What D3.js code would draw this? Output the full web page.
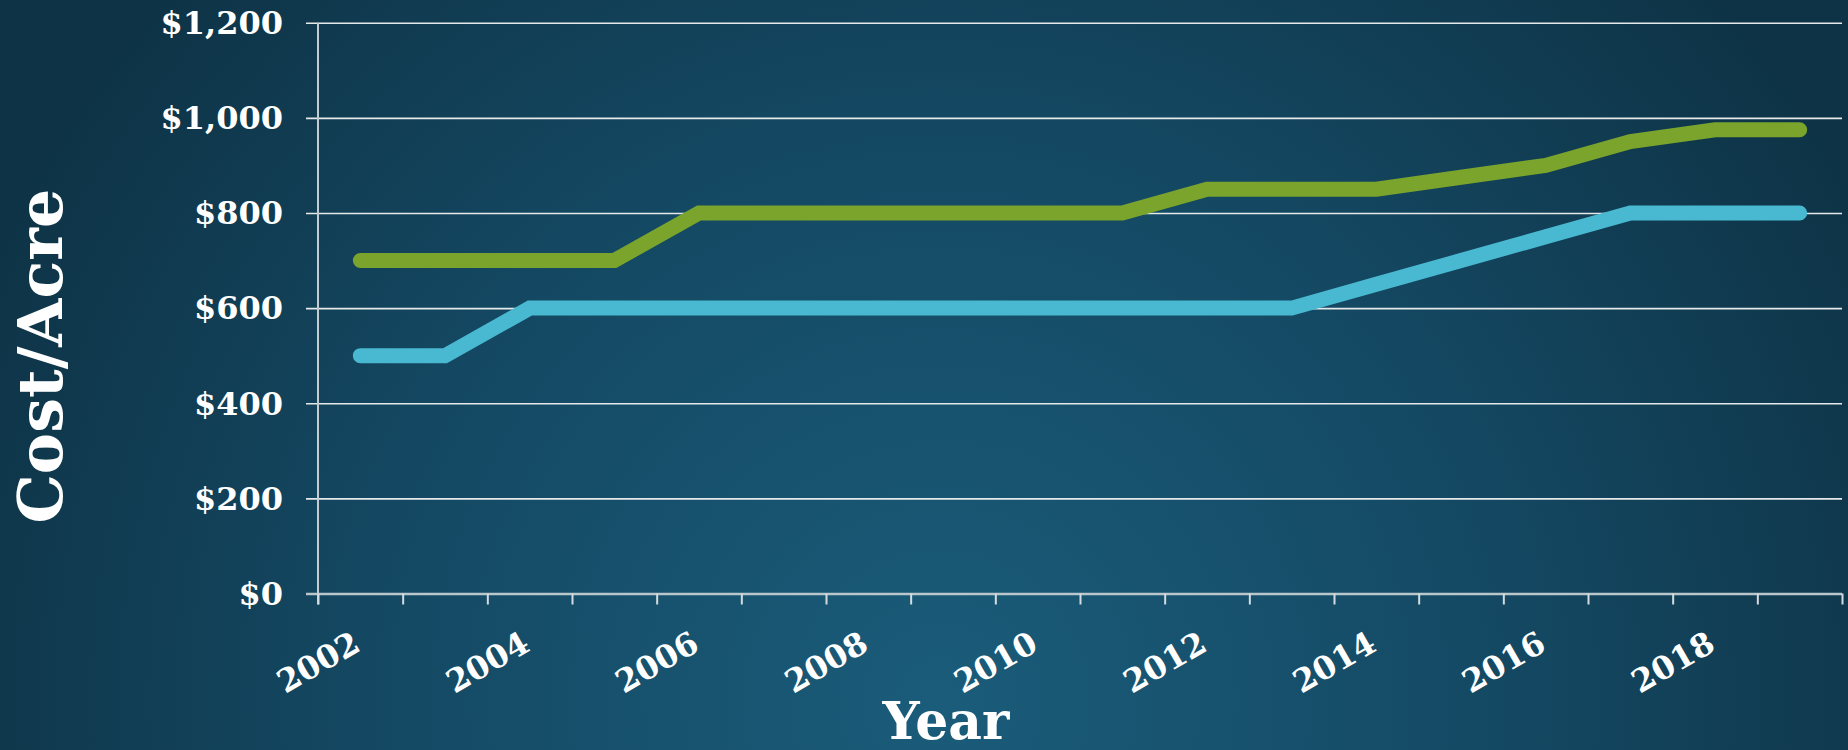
<!DOCTYPE html>
<html>
<head>
<meta charset="utf-8">
<script src="https://cdn.jsdelivr.net/npm/d3@7"></script>
<style>
  html, body { margin: 0; padding: 0; background: #11394e; }
  svg { display: block; }
</style>
</head>
<body>
<div id="chart"></div>
<script>
// Data
const years = d3.range(2002, 2020)
const greenCost = [700, 700, 700, 700, 800, 800, 800, 800, 800, 800, 850, 850, 850, 875, 900, 950, 975, 975]
const blueCost  = [500, 500, 600, 600, 600, 600, 600, 600, 600, 600, 600, 600, 650, 700, 750, 800, 800, 800]
const yTicks = [0, 200, 400, 600, 800, 1000, 1200]
const xLabelYears = [2002, 2004, 2006, 2008, 2010, 2012, 2014, 2016, 2018]

const width = 1848
const height = 750
const margin = { top: 22.7, right: 6, bottom: 156.5, left: 318 }
const fontFamily = "Georgia, 'DejaVu Serif', serif"

const svg = d3.select("#chart")
  .append("svg")
  .attr("width", width)
  .attr("height", height)

// Background gradient
const defs = svg.append("defs")
const grad = defs.append("radialGradient")
  .attr("id", "bg")
  .attr("gradientUnits", "userSpaceOnUse")
  .attr("cx", 940).attr("cy", 700)
  .attr("r", 1050)
grad.append("stop").attr("offset", "0%").attr("stop-color", "#1a5c7a")
grad.append("stop").attr("offset", "55%").attr("stop-color", "#144862")
grad.append("stop").attr("offset", "100%").attr("stop-color", "#0e3346")

svg.append("rect")
  .attr("width", width)
  .attr("height", height)
  .attr("fill", "url(#bg)")

const x0 = margin.left
const x1 = width - margin.right
const yTop = margin.top
const yBottom = height - margin.bottom

// Scales
const x = d3.scaleBand()
  .domain(years)
  .range([x0, x1])
  .padding(0)

const y = d3.scaleLinear()
  .domain([0, 1200])
  .range([yBottom, yTop])

const xCenter = d => x(d) + x.bandwidth() / 2

// Gridlines (y axis)
const yAxis = svg.append("g")
  .attr("transform", `translate(${x0},0)`)
  .call(d3.axisLeft(y)
    .tickValues(yTicks)
    .tickSize(12)
    .tickFormat(d => "$" + d3.format(",")(d)))

yAxis.select(".domain").remove()
yAxis.selectAll(".tick line")
  .attr("x1", -12)
  .attr("x2", x1 - x0)
  .attr("stroke", d => d === 0 ? "#b9c6cc" : "#e6e9ea")
  .attr("stroke-width", d => d === 0 ? 2.5 : 1.6)
yAxis.selectAll(".tick text")
  .attr("x", -35)
  .attr("dy", "0.34em")
  .attr("fill", "#fff")
  .attr("font-family", fontFamily)
  .attr("font-weight", "bold")
  .attr("font-size", "32px")

// Vertical axis line
svg.append("line")
  .attr("x1", x0).attr("x2", x0)
  .attr("y1", yTop).attr("y2", yBottom + 11)
  .attr("stroke", "#c3ccd0")
  .attr("stroke-width", 2)

// Category tick marks between bands
const tickScale = d3.scaleLinear()
  .domain([0, years.length])
  .range([x0, x1])

const xTicks = svg.append("g")
  .attr("transform", `translate(0,${yBottom})`)
  .call(d3.axisBottom(tickScale)
    .tickValues(d3.range(years.length + 1))
    .tickSize(11)
    .tickFormat(""))
xTicks.select(".domain").remove()
xTicks.selectAll(".tick line")
  .attr("stroke", "#d5dcdf")
  .attr("stroke-width", 2)

// Year labels, rotated
const xAxis = svg.append("g")
  .attr("transform", `translate(0,${yBottom})`)
  .call(d3.axisBottom(x)
    .tickValues(xLabelYears)
    .tickSize(0)
    .tickFormat(d => d))
xAxis.select(".domain").remove()
xAxis.selectAll(".tick text")
  .attr("text-anchor", "end")
  .attr("y", 0)
  .attr("dy", 0)
  .attr("transform", "translate(2,56) rotate(-30)")
  .attr("fill", "#fff")
  .attr("font-family", fontFamily)
  .attr("font-weight", "bold")
  .attr("font-size", "32px")

// Lines
const line = d3.line()
  .x((d, i) => xCenter(years[i]))
  .y(d => y(d))

svg.append("path")
  .datum(greenCost)
  .attr("d", line)
  .attr("fill", "none")
  .attr("stroke", "#7ba42c")
  .attr("stroke-width", 15)
  .attr("stroke-linecap", "round")
  .attr("stroke-linejoin", "miter")

svg.append("path")
  .datum(blueCost)
  .attr("d", line)
  .attr("fill", "none")
  .attr("stroke", "#49b9d1")
  .attr("stroke-width", 15)
  .attr("stroke-linecap", "round")
  .attr("stroke-linejoin", "miter")

// Axis titles
svg.append("text")
  .attr("transform", `translate(62,${(yTop + yBottom) / 2 + 48}) rotate(-90)`)
  .attr("text-anchor", "middle")
  .attr("fill", "#fff")
  .attr("font-family", fontFamily)
  .attr("font-weight", "bold")
  .attr("font-size", "62px")
  .text("Cost/Acre")

svg.append("text")
  .attr("x", 946)
  .attr("y", 739)
  .attr("text-anchor", "middle")
  .attr("fill", "#fff")
  .attr("font-family", fontFamily)
  .attr("font-weight", "bold")
  .attr("font-size", "52px")
  .text("Year")
</script>
</body>
</html>
